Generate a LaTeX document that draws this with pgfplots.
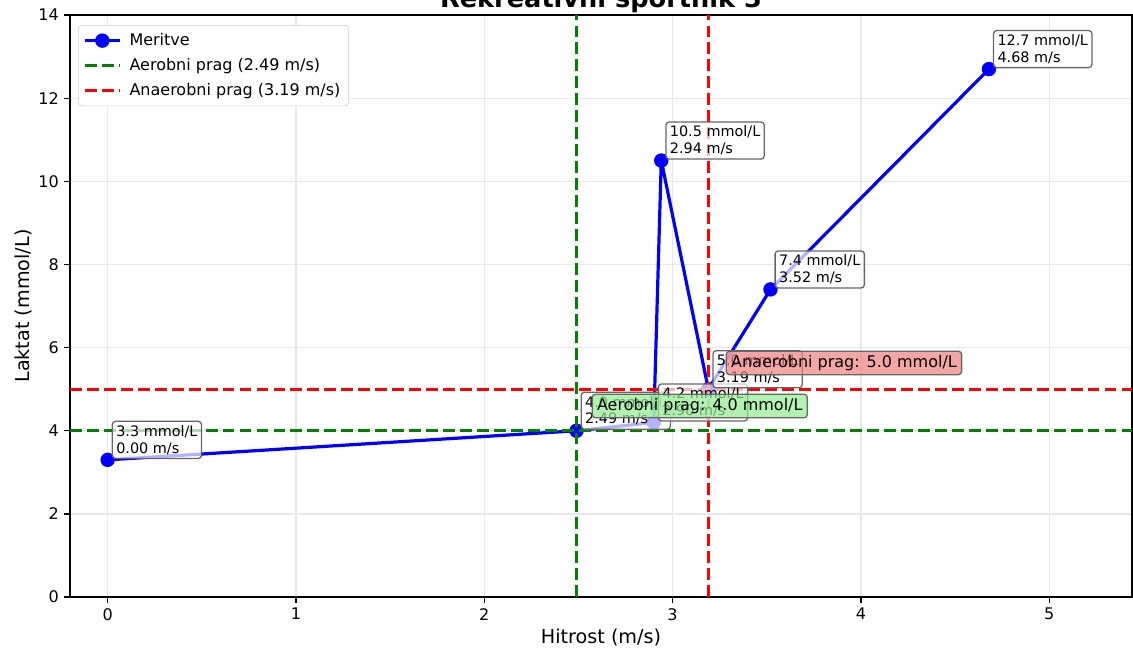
\documentclass[border=0pt]{standalone}
\usepackage{fontspec}
\setmainfont{DejaVu Sans}
\usepackage{pgfplots}
\usepackage{pgfplotstable}
\pgfplotsset{compat=1.18}

\definecolor{mplblue}{HTML}{0000FF}
\definecolor{mplgreen}{HTML}{008000}
\definecolor{mplred}{HTML}{FF0000}
\definecolor{gridgray}{HTML}{E8E8E8}
\definecolor{lightred}{HTML}{F08080}
\definecolor{lightgrn}{HTML}{90EE90}

% lactate test: speed (m/s) vs lactate (mmol/L)
\pgfplotstableread{
v lac
0.00 3.3
2.49 4.0
2.90 4.2
2.94 10.5
3.19 5.0
3.52 7.4
4.68 12.7
}\meritve

\begin{document}
\begin{tikzpicture}[
  lbl/.style={anchor=south west, xshift=2.5pt, yshift=0.5pt,
    font=\fontsize{9}{10.5}\selectfont, align=left,
    fill=white, fill opacity=0.7, text opacity=1, draw=black!60,
    rounded corners=2pt, inner sep=2.5pt, line width=0.8pt},
  prag/.style={anchor=west, font=\fontsize{10}{12}\selectfont,
    fill opacity=0.7, text opacity=1, draw=black!60,
    rounded corners=2pt, inner xsep=3pt, inner ysep=2.5pt, line width=0.8pt},
  dashpat/.style={dash pattern=on 7.4pt off 3.2pt, line width=2pt}
]
\begin{axis}[
  scale only axis,
  width=663.75pt, height=363.75pt,
  xmin=-0.2, xmax=5.44, ymin=0, ymax=14,
  xtick={0,1,2,3,4,5}, ytick={0,2,4,6,8,10,12,14},
  xtick pos=bottom, ytick pos=left,
  tick align=outside, major tick length=3.5pt,
  tick style={black, line width=0.8pt},
  axis line style={black, line width=0.8pt},
  grid=major,
  major grid style={gridgray, line width=0.8pt},
  clip marker paths=true,
  ticklabel style={font=\fontsize{10}{12}\selectfont},
  /pgf/number format/assume math mode=true,
  title={Rekreativni športnik 3},
  title style={at={(0.5,1)}, anchor=base, yshift=-1pt, font=\fontsize{16}{18}\selectfont\bfseries},
  xlabel={Hitrost (m/s)},
  ylabel={Laktat (mmol/L)},
  xlabel style={at={(axis description cs:0.5,-0.079)}, anchor=base, font=\fontsize{12}{14}\selectfont},
  ylabel style={at={(axis description cs:-0.0377,0.5)}, anchor=base, font=\fontsize{12}{14}\selectfont},
  legend style={at={(0,1)}, anchor=north west, xshift=5pt, yshift=-6.25pt,
    draw=black!20, rounded corners=2pt, fill=white,
    font=\fontsize{10}{12}\selectfont, row sep=2.5pt, cells={anchor=west},
    inner xsep=3pt, inner ysep=3pt},
  legend image code/.code={%
    \draw[mark repeat=2,mark phase=2,#1] plot coordinates {(0pt,0pt) (11pt,0pt) (22pt,0pt)};
    \path (25pt,0pt);},
]
\addplot[mplblue, line width=2pt, line join=round, mark=*, mark size=4pt, mark options={solid, fill=mplblue, line width=1pt}] table[x=v, y=lac] {\meritve};
\addlegendentry{Meritve}
\addplot[mplgreen, dashpat] coordinates {(2.49,0) (2.49,14)};
\addlegendentry{Aerobni prag (2.49 m/s)}
\addplot[mplred, dashpat] coordinates {(3.19,0) (3.19,14)};
\addlegendentry{Anaerobni prag (3.19 m/s)}
\addplot[mplgreen, dashpat, forget plot] coordinates {(-0.2,4.0) (5.44,4.0)};
\addplot[mplred, dashpat, forget plot] coordinates {(-0.2,5.0) (5.44,5.0)};

\node[lbl] at (axis cs:0.00,3.3) {3.3 mmol/L\\0.00 m/s};
\node[lbl] at (axis cs:2.49,4.0) {4.0 mmol/L\\2.49 m/s};
\node[lbl] at (axis cs:2.90,4.2) {4.2 mmol/L\\2.90 m/s};
\node[lbl] at (axis cs:2.94,10.5) {10.5 mmol/L\\2.94 m/s};
\node[lbl] at (axis cs:3.19,5.0) {5.0 mmol/L\\3.19 m/s};
\node[lbl] at (axis cs:3.52,7.4) {7.4 mmol/L\\3.52 m/s};
\node[lbl] at (axis cs:4.68,12.7) {12.7 mmol/L\\4.68 m/s};

\node[prag, fill=lightred] at (axis cs:3.282,5.63) {Anaerobni prag: 5.0 mmol/L};
\node[prag, fill=lightgrn] at (axis cs:2.570,4.595) {Aerobni prag: 4.0 mmol/L};

\coordinate (sw) at (rel axis cs:0,0);
\coordinate (ne) at (rel axis cs:1,1);
\end{axis}
\pgfresetboundingbox
\path[use as bounding box] ([xshift=-43.75pt,yshift=-33.1pt]sw) rectangle ([xshift=0.6pt,yshift=9.4pt]ne);
\end{tikzpicture}
\end{document}
